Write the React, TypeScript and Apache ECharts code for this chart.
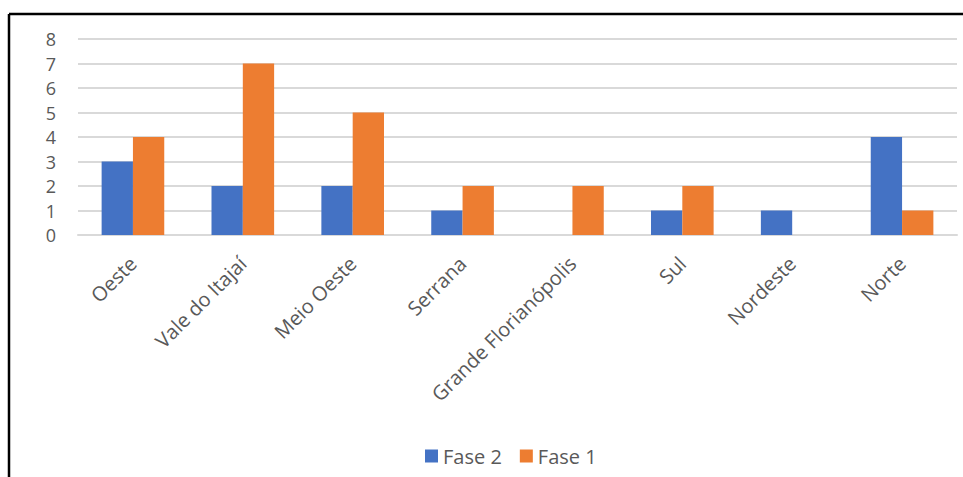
import React, { useEffect, useRef } from "react";
import * as echarts from "echarts";

const categories = ["Oeste", "Vale do Itajaí", "Meio Oeste", "Serrana", "Grande Florianópolis", "Sul", "Nordeste", "Norte"];
const fase2 = [3, 2, 2, 1, 0, 1, 1, 4];
const fase1 = [4, 7, 5, 2, 2, 2, 0, 1];

export default function App() {
  const ref = useRef<HTMLDivElement>(null);
  useEffect(() => {
    if (!ref.current) return;
    const chart = echarts.init(ref.current, undefined, { renderer: "svg" });
    const font = "Open Sans";
    chart.setOption({
      animation: false,
      backgroundColor: "#ffffff",
      textStyle: { fontFamily: font },
      graphic: [
        { type: "line", shape: { x1: 9, y1: 14, x2: 963, y2: 14 }, style: { stroke: "#000", lineWidth: 2.5 } },
        { type: "line", shape: { x1: 9, y1: 14, x2: 9, y2: 477 }, style: { stroke: "#000", lineWidth: 2.5 } },
      ],
      grid: { left: 78, right: 6, top: 39, bottom: 242, containLabel: false },
      legend: {
        data: ["Fase 2", "Fase 1"],
        left: 420,
        top: 441,
        icon: "rect",
        itemWidth: 13,
        itemHeight: 13,
        itemGap: 18,
        textStyle: { fontFamily: font, fontSize: 20, color: "#595959" },
      },
      xAxis: {
        type: "category",
        data: categories,
        axisLine: { show: true, lineStyle: { color: "#d9d9d9", width: 2 } },
        axisTick: { show: false },
        axisLabel: { rotate: 45, interval: 0, margin: 25, fontFamily: font, fontSize: 20, color: "#595959" },
      },
      yAxis: {
        type: "value",
        min: 0,
        max: 8,
        interval: 1,
        axisLine: { show: false },
        axisTick: { show: false },
        splitLine: { lineStyle: { color: "#d9d9d9", width: 2 } },
        axisLabel: { margin: 22, fontFamily: font, fontSize: 18, color: "#595959" },
      },
      series: [
        { name: "Fase 2", type: "bar", data: fase2, barGap: "0%", barCategoryGap: "43%", itemStyle: { color: "#4472c4" } },
        { name: "Fase 1", type: "bar", data: fase1, barGap: "0%", barCategoryGap: "43%", itemStyle: { color: "#ed7d31" } },
      ],
    });
    return () => chart.dispose();
  }, []);
  return <div ref={ref} style={{ position: "absolute", left: 0, top: 0, width: 963, height: 477 }} />;
}
